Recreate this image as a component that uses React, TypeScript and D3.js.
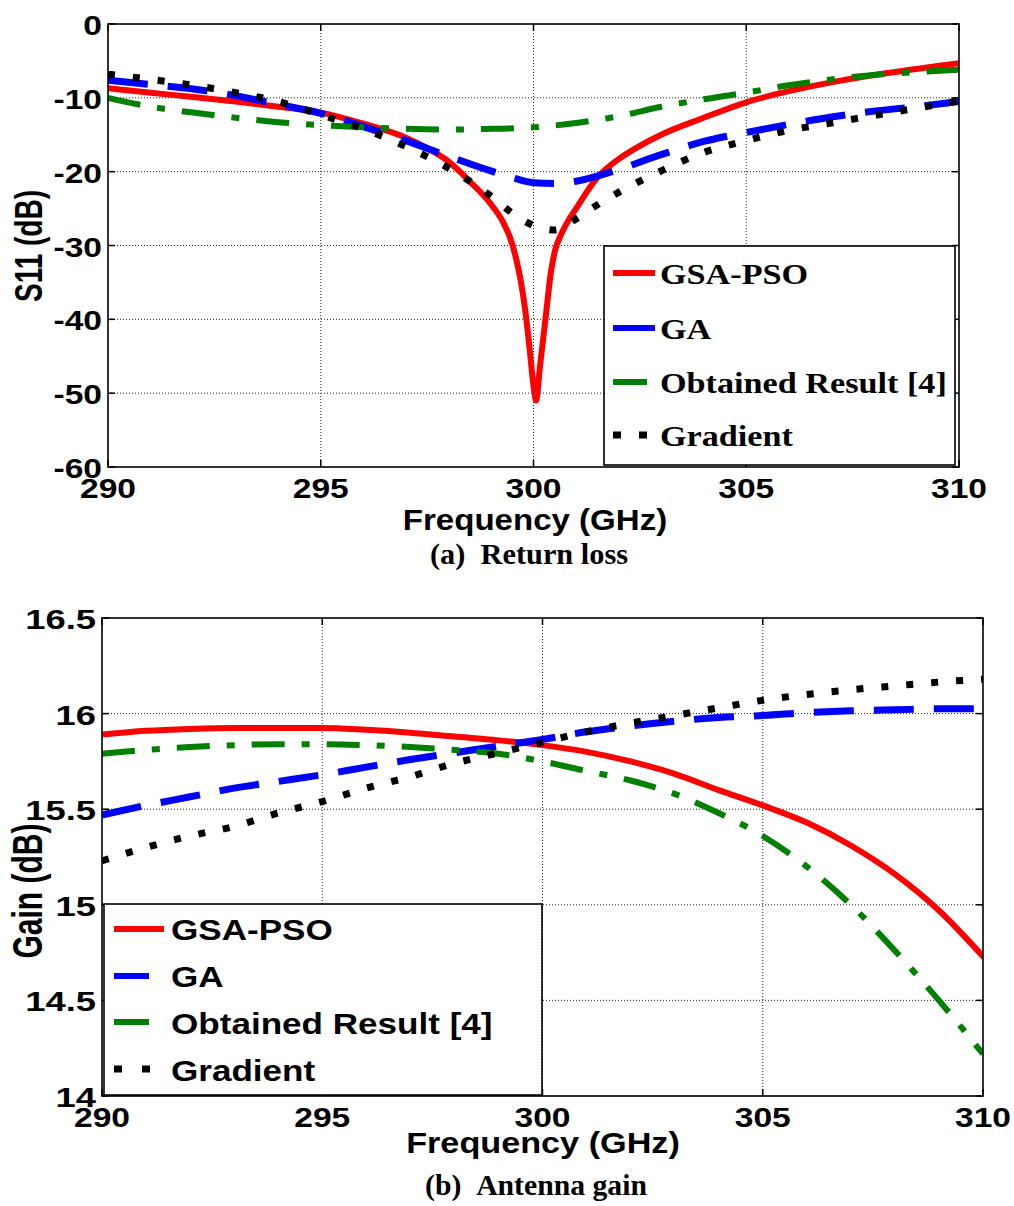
import React from "react";
import * as d3 from "d3";

// ---------- Data ----------
const freqTicks = [290, 295, 300, 305, 310];
const s11Ticks = [0, -10, -20, -30, -40, -50, -60];
const gainTicks = [16.5, 16, 15.5, 15, 14.5, 14];
const gainTickLabels = ["16.5", "16", "15.5", "15", "14.5", "14"];

const seriesNames = ["GSA-PSO", "GA", "Obtained Result [4]", "Gradient"];

// (a) Return loss
const s11RedFreq = [290, 291, 292, 293, 294, 295, 296, 297, 297.5, 298, 298.5, 299, 299.3, 299.5, 299.6, 299.7, 299.8, 299.9, 300, 300.06, 300.15, 300.3, 300.4, 300.5, 300.65, 300.8, 301, 301.5, 302, 302.5, 303, 304, 305, 306, 307, 308, 309, 310];
const s11Red = [-8.7, -9.3, -9.9, -10.5, -11.2, -12.0, -13.5, -15.4, -16.8, -18.6, -21.3, -24.4, -27.0, -29.8, -32.0, -34.8, -38.5, -43.5, -49, -51, -46.5, -39, -34, -30.8, -28.5, -26.8, -25.0, -20.8, -18.3, -16.5, -15.0, -12.7, -10.6, -9.1, -7.9, -6.9, -6.1, -5.3];

const s11BlueFreq = [290, 291, 292, 293, 294, 295, 296, 297, 298, 299, 299.5, 300, 300.5, 301, 301.5, 302, 303, 304, 305, 306, 307, 308, 309, 310];
const s11Blue = [-7.6, -8.2, -8.8, -9.7, -10.9, -12.1, -13.9, -15.8, -17.9, -19.9, -20.8, -21.5, -21.6, -21.3, -20.6, -19.7, -17.7, -15.9, -14.7, -13.6, -12.6, -11.8, -11.2, -10.5];

const s11GreenFreq = [290, 291, 292, 293, 294, 295, 296, 297, 298, 299, 300, 301, 302, 303, 304, 305, 306, 307, 308, 309, 310];
const s11Green = [-10.0, -11.2, -12.0, -12.7, -13.3, -13.7, -14.0, -14.2, -14.3, -14.2, -14.0, -13.4, -12.5, -11.2, -10.2, -9.3, -8.3, -7.5, -6.9, -6.5, -6.2];

const s11BlackFreq = [290, 291, 292, 293, 294, 295, 296, 297, 298, 299, 299.5, 300, 300.5, 301, 301.5, 302, 303, 304, 305, 306, 307, 308, 309, 310];
const s11Black = [-6.8, -7.5, -8.3, -9.3, -10.5, -12.3, -14.2, -16.6, -19.5, -23.3, -25.6, -27.3, -27.9, -26.4, -24.5, -22.8, -19.9, -17.4, -15.8, -14.4, -13.4, -12.4, -11.4, -10.4];

// (b) Antenna gain
const gainFreq = [290, 291, 292, 293, 294, 295, 296, 297, 298, 299, 300, 301, 302, 303, 304, 305, 306, 307, 308, 309, 310];
const gainRed = [15.89, 15.91, 15.92, 15.925, 15.925, 15.925, 15.915, 15.90, 15.88, 15.86, 15.835, 15.80, 15.75, 15.685, 15.60, 15.52, 15.43, 15.31, 15.16, 14.97, 14.73];
const gainBlue = [15.47, 15.52, 15.565, 15.61, 15.645, 15.68, 15.72, 15.76, 15.795, 15.83, 15.865, 15.905, 15.935, 15.96, 15.98, 15.99, 16.005, 16.015, 16.02, 16.025, 16.025];
const gainGreen = [15.79, 15.81, 15.825, 15.835, 15.84, 15.84, 15.835, 15.825, 15.81, 15.79, 15.75, 15.70, 15.65, 15.58, 15.48, 15.36, 15.20, 15.00, 14.76, 14.50, 14.22];
const gainBlack = [15.23, 15.30, 15.36, 15.41, 15.48, 15.54, 15.61, 15.67, 15.74, 15.795, 15.85, 15.905, 15.95, 15.99, 16.03, 16.07, 16.10, 16.125, 16.145, 16.165, 16.18];

// ---------- Styles ----------
const SANS = "'Liberation Sans', Arial, Helvetica, sans-serif";
const SERIF = "'Liberation Serif', 'Times New Roman', serif";
const styles = [
  { color: "#ff0000", width: 6, dash: "" },
  { color: "#0000ff", width: 7, dash: "40 20" },
  { color: "#008000", width: 6, dash: "33 17 8 17" },
  { color: "#000000", width: 7, dash: "7 18" },
];

type TProps = {
  x: number; y: number; sx?: number; anchor?: string; size: number;
  family?: string; rotate?: number; children: React.ReactNode;
};
const T = ({ x, y, sx = 1.2, anchor = "middle", size, family = SANS, rotate = 0, children }: TProps) => (
  <text
    transform={`translate(${x},${y}) scale(${sx},1)${rotate ? ` rotate(${rotate})` : ""}`}
    textAnchor={anchor}
    fontSize={size}
    fontFamily={family}
    fontWeight="bold"
    fill="#000"
  >
    {children}
  </text>
);

type Series = { fx: number[]; fy: number[] };

const Panel = ({
  left, right, top, bottom, yDomain, yTicks, yTickLabels, ySx, series, id,
}: {
  left: number; right: number; top: number; bottom: number; yDomain: [number, number];
  yTicks: number[]; yTickLabels: string[]; ySx: number; series: Series[]; id: string;
}) => {
  const x = d3.scaleLinear().domain([290, 310]).range([left, right]);
  const y = d3.scaleLinear().domain(yDomain).range([bottom, top]);
  const line = d3
    .line<[number, number]>()
    .x((d) => x(d[0]))
    .y((d) => y(d[1]))
    .curve(d3.curveMonotoneX);
  const innerX = freqTicks.filter((t) => t !== 290 && t !== 310);
  const innerY = yTicks.filter((t) => t !== yDomain[0] && t !== yDomain[1]);
  const tl = 7;
  return (
    <g>
      <defs>
        <clipPath id={id}>
          <rect x={left} y={top} width={right - left} height={bottom - top} />
        </clipPath>
      </defs>
      {innerX.map((t) => (
        <line key={"gx" + t} x1={x(t)} x2={x(t)} y1={top} y2={bottom} stroke="#222" strokeWidth={1} strokeDasharray="1 2" />
      ))}
      {innerY.map((t) => (
        <line key={"gy" + t} x1={left} x2={right} y1={y(t)} y2={y(t)} stroke="#222" strokeWidth={1} strokeDasharray="1 2" />
      ))}
      {freqTicks.map((t) => (
        <g key={"tx" + t}>
          <line x1={x(t)} x2={x(t)} y1={bottom} y2={bottom - tl} stroke="#000" strokeWidth={1.5} />
          <line x1={x(t)} x2={x(t)} y1={top} y2={top + tl} stroke="#000" strokeWidth={1.5} />
        </g>
      ))}
      {yTicks.map((t) => (
        <g key={"ty" + t}>
          <line x1={left} x2={left + tl} y1={y(t)} y2={y(t)} stroke="#000" strokeWidth={1.5} />
          <line x1={right} x2={right - tl} y1={y(t)} y2={y(t)} stroke="#000" strokeWidth={1.5} />
        </g>
      ))}
      <g clipPath={`url(#${id})`}>
        {series.map((s, i) => {
          const pts = s.fx.map((f, k) => [f, s.fy[k]] as [number, number]);
          return (
            <path
              key={i}
              d={line(pts) || ""}
              fill="none"
              stroke={styles[i].color}
              strokeWidth={styles[i].width}
              strokeDasharray={styles[i].dash || undefined}
              strokeLinejoin="round"
              strokeLinecap={i === 0 ? "round" : "butt"}
            />
          );
        })}
      </g>
      <rect x={left} y={top} width={right - left} height={bottom - top} fill="none" stroke="#000" strokeWidth={1.6} />
      {freqTicks.map((t) => (
        <T key={"lx" + t} x={x(t)} y={bottom + 31} size={28} sx={1.2}>
          {String(t)}
        </T>
      ))}
      {yTicks.map((t, i) => (
        <T key={"ly" + t} x={left - 6} y={y(t) + 11} size={28} sx={ySx} anchor="end">
          {yTickLabels[i]}
        </T>
      ))}
    </g>
  );
};

export default function App() {
  const topSeries: Series[] = [
    { fx: s11RedFreq, fy: s11Red },
    { fx: s11BlueFreq, fy: s11Blue },
    { fx: s11GreenFreq, fy: s11Green },
    { fx: s11BlackFreq, fy: s11Black },
  ];
  const botSeries: Series[] = [
    { fx: gainFreq, fy: gainRed },
    { fx: gainFreq, fy: gainBlue },
    { fx: gainFreq, fy: gainGreen },
    { fx: gainFreq, fy: gainBlack },
  ];

  const topLegY = [273, 328, 382, 435];
  const topLegBase = [284, 339, 393, 446];
  const topLegLen = [42, 42, 34, 34];
  const botLegY = [929, 976, 1022, 1069];
  const botLegBase = [940, 987, 1034, 1081];
  const botLegLen = [50, 35, 35, 36];

  const legendSample = (i: number, x0: number, yy: number, len: number) => {
    if (i === 3) {
      return (
        <g key={"ls" + i}>
          <rect x={x0} y={yy - 3.5} width={8} height={7} fill="#000" />
          <rect x={x0 + len - 8} y={yy - 3.5} width={8} height={7} fill="#000" />
        </g>
      );
    }
    return <line key={"ls" + i} x1={x0} x2={x0 + len} y1={yy} y2={yy} stroke={styles[i].color} strokeWidth={6} />;
  };

  return (
    <svg
      width={1014}
      height={1206}
      viewBox="0 0 1014 1206"
      style={{ position: "absolute", left: 0, top: 0, background: "#fff" }}
    >
      <rect x={0} y={0} width={1014} height={1206} fill="#fff" />
      {/* ---- (a) ---- */}
      <Panel
        id="clipA"
        left={108}
        right={959}
        top={24}
        bottom={467}
        yDomain={[-60, 0]}
        yTicks={s11Ticks}
        yTickLabels={s11Ticks.map(String)}
        ySx={1.2}
        series={topSeries}
      />
      <g>
        <rect x={604} y={246} width={351} height={219} fill="#fff" stroke="#000" strokeWidth={1.6} />
        {seriesNames.map((n, i) => (
          <g key={"lt" + i}>
            {legendSample(i, 613, topLegY[i], topLegLen[i])}
            <T x={660} y={topLegBase[i]} size={30} sx={1.14} anchor="start" family={SERIF}>
              {n}
            </T>
          </g>
        ))}
      </g>
      <T x={535} y={530} size={29} sx={1.14}>Frequency (GHz)</T>
      <T x={42} y={246} size={28} sx={1.4} rotate={-90}>S11 (dB)</T>
      <text x={529} y={564} textAnchor="middle" fontSize={29} fontFamily={SERIF} fontWeight="bold" textLength={198} lengthAdjust="spacingAndGlyphs">
        {"(a)\u00A0\u00A0Return loss"}
      </text>

      {/* ---- (b) ---- */}
      <Panel
        id="clipB"
        left={102}
        right={983}
        top={618}
        bottom={1096}
        yDomain={[14, 16.5]}
        yTicks={gainTicks}
        yTickLabels={gainTickLabels}
        ySx={1.3}
        series={botSeries}
      />
      <g>
        <rect x={104} y={904} width={438} height={191} fill="#fff" stroke="#000" strokeWidth={1.6} />
        {seriesNames.map((n, i) => (
          <g key={"lb" + i}>
            {legendSample(i, 114, botLegY[i], botLegLen[i])}
            <T x={171} y={botLegBase[i]} size={29} sx={1.21} anchor="start">
              {n}
            </T>
          </g>
        ))}
      </g>
      <T x={543} y={1153} size={29} sx={1.18}>Frequency (GHz)</T>
      <T x={42} y={891} size={30} sx={1.4} rotate={-90}>Gain (dB)</T>
      <text x={536} y={1195} textAnchor="middle" fontSize={29} fontFamily={SERIF} fontWeight="bold" textLength={222} lengthAdjust="spacingAndGlyphs">
        {"(b)\u00A0\u00A0Antenna gain"}
      </text>
    </svg>
  );
}
